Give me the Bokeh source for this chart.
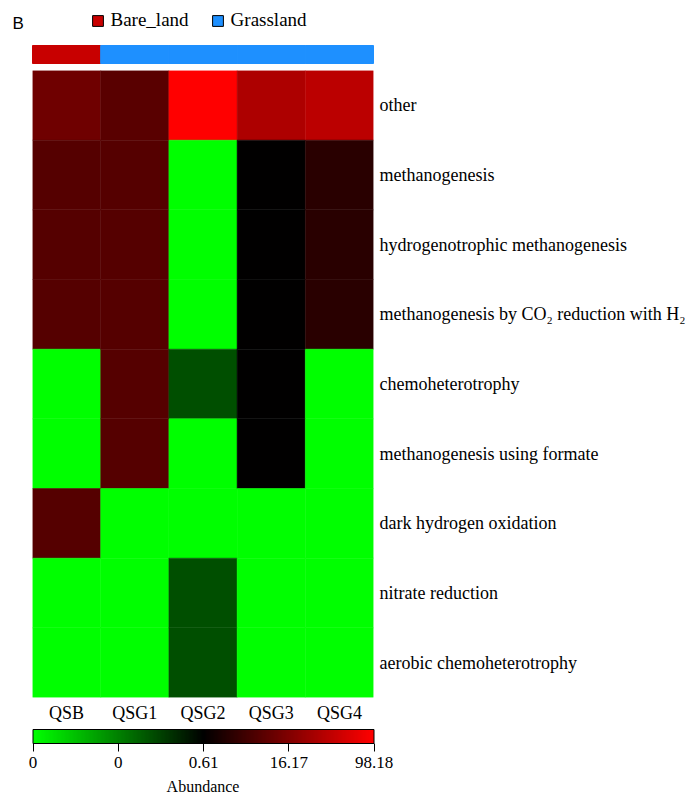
import numpy as np
from bokeh.plotting import figure
from bokeh.models import (ColumnDataSource, LinearColorMapper, ColorBar, FixedTicker,
                          Legend, LegendItem, Label, Title, Range1d, FactorRange)
from bokeh.transform import transform
from bokeh.embed import file_html
from bokeh.resources import INLINE

# ---------------- data ----------------
samples = ["QSB", "QSG1", "QSG2", "QSG3", "QSG4"]
sample_groups = ["Bare_land", "Grassland", "Grassland", "Grassland", "Grassland"]
group_names = ["Bare_land", "Grassland"]
group_colors = ["#c80000", "#1e90ff"]

functions = [
    "other",
    "methanogenesis",
    "hydrogenotrophic methanogenesis",
    "methanogenesis by CO\u2082 reduction with H\u2082",
    "chemoheterotrophy",
    "methanogenesis using formate",
    "dark hydrogen oxidation",
    "nitrate reduction",
    "aerobic chemoheterotrophy",
]

# abundance (%) per sample, rows in the order of `functions`
QSB = [14.0, 11.0, 11.0, 11.0, 0, 0, 11.0, 0, 0]
QSG1 = [11.4, 11.0, 11.0, 11.0, 11.0, 11.0, 0, 0, 0]
QSG2 = [98.18, 0, 0, 0, 0.23, 0, 0, 0.23, 0.23]
QSG3 = [45.4, 0.61, 0.61, 0.61, 0.61, 0.61, 0, 0, 0]
QSG4 = [54.6, 5.5, 5.5, 5.5, 0, 0, 0, 0, 0]
abundance = [QSB, QSG1, QSG2, QSG3, QSG4]

# colour-bar breaks (quantiles) and their tick labels
breaks = [0, 0, 0.61, 16.17, 98.18]
break_pos = [0, 0.25, 0.5, 0.75, 1.0]
break_labels = ["0", "0", "0.61", "16.17", "98.18"]

# ---------------- colour scale ----------------
palette = []
for i in range(256):
    t = i / 255
    if t < 0.5:
        palette.append("#%02x%02x%02x" % (0, int(round(255 * (1 - 2 * t))), 0))
    else:
        palette.append("#%02x%02x%02x" % (int(round(255 * (2 * t - 1))), 0, 0))
mapper = LinearColorMapper(palette=palette, low=0, high=1)


def to_pos(v):
    v = np.asarray(v, dtype=float)
    return np.where(v <= 0, 0.0, np.interp(v, breaks[1:], break_pos[1:]))


xs, ys, vals = [], [], []
for s, col in zip(samples, abundance):
    for f, v in zip(functions, col):
        xs.append(s)
        ys.append(f)
        vals.append(v)
src = ColumnDataSource(dict(x=xs, y=ys, v=vals, t=to_pos(vals)))

SERIF = "Liberation Serif"
LEFT = 32          # px left of heatmap
FW = 341           # heatmap width px
FH = 627           # heatmap height px
TOP_H = 70         # height of group-bar strip
CELL = FW / len(samples)
TOTAL_W = 693

# ---------------- main heatmap ----------------
p = figure(x_range=FactorRange(*samples), y_range=FactorRange(*functions[::-1]),
           frame_width=FW, frame_height=FH,
           min_border_left=LEFT, min_border_top=0, min_border_right=0, min_border_bottom=0,
           y_axis_location="right", x_axis_location="below",
           toolbar_location=None, output_backend="svg")
p.rect(x="x", y="y", width=1, height=1, source=src,
       fill_color=transform("t", mapper), line_color=transform("t", mapper), line_width=0.5)
p.grid.visible = False
p.outline_line_color = None
for ax in (p.xaxis[0], p.yaxis[0]):
    ax.axis_line_color = None
    ax.major_tick_line_color = None
    ax.minor_tick_line_color = None
    ax.major_tick_out = 0
    ax.major_tick_in = 0
    ax.major_label_text_font = SERIF
    ax.major_label_text_font_size = "18px"
    ax.major_label_text_color = "black"
p.yaxis.major_label_standoff = 6
p.xaxis.major_label_standoff = 5

cb = ColorBar(color_mapper=mapper, orientation="horizontal", location="top_center",
              ticker=FixedTicker(ticks=break_pos),
              major_label_overrides={k: l for k, l in zip(break_pos, break_labels)},
              width=FW, height=14, padding=4, margin=10,
              background_fill_alpha=0, border_line_color=None,
              bar_line_color="black", bar_line_width=1,
              major_tick_line_color="black", major_tick_out=8, major_tick_in=0,
              minor_tick_line_color=None, label_standoff=5,
              major_label_text_font=SERIF, major_label_text_font_size="17px",
              major_label_text_color="black")
p.add_layout(cb, "below")
p.add_layout(Title(text="Abundance", align="center", text_font=SERIF, text_color="black",
                   text_font_size="16px", text_font_style="normal", standoff=3), "below")

# ---------------- group bar + legend ----------------
idx = np.arange(len(samples))
top = figure(x_range=Range1d(-LEFT / CELL, (TOTAL_W - LEFT) / CELL),
             y_range=Range1d(-7 / 18, 1 + 45 / 18),
             frame_width=TOTAL_W, frame_height=TOP_H,
             min_border_left=0, min_border_top=0, min_border_right=0, min_border_bottom=0,
             x_axis_location=None, y_axis_location=None,
             toolbar_location=None, output_backend="svg")
top.grid.visible = False
top.outline_line_color = None
gcol = [group_colors[group_names.index(g)] for g in sample_groups]
top.quad(left=idx, right=idx + 1, bottom=0, top=1, fill_color=gcol, line_color=gcol)

items = []
for g, c in zip(group_names, group_colors):
    i0 = sample_groups.index(g)
    r = top.scatter(x=[i0 + 0.5], y=[0.5], marker="square", size=0,
                    fill_color=c, line_color="black", line_width=1)
    items.append(LegendItem(label=g, renderers=[r]))
legend = Legend(items=items, orientation="horizontal", location=(83.5, 36.5),
                glyph_width=27, glyph_height=27, label_standoff=0, spacing=15,
                padding=0, margin=0, border_line_color=None, background_fill_alpha=0,
                label_text_font=SERIF, label_text_font_size="19px", label_text_color="black")
top.add_layout(legend)
top.add_layout(Label(x=12, y=47, x_units="screen", y_units="screen", text="B",
                     text_font="Liberation Sans", text_font_size="17px",
                     text_baseline="middle", text_color="black"))

open("out.html", "w").write(file_html([top, p], INLINE))
